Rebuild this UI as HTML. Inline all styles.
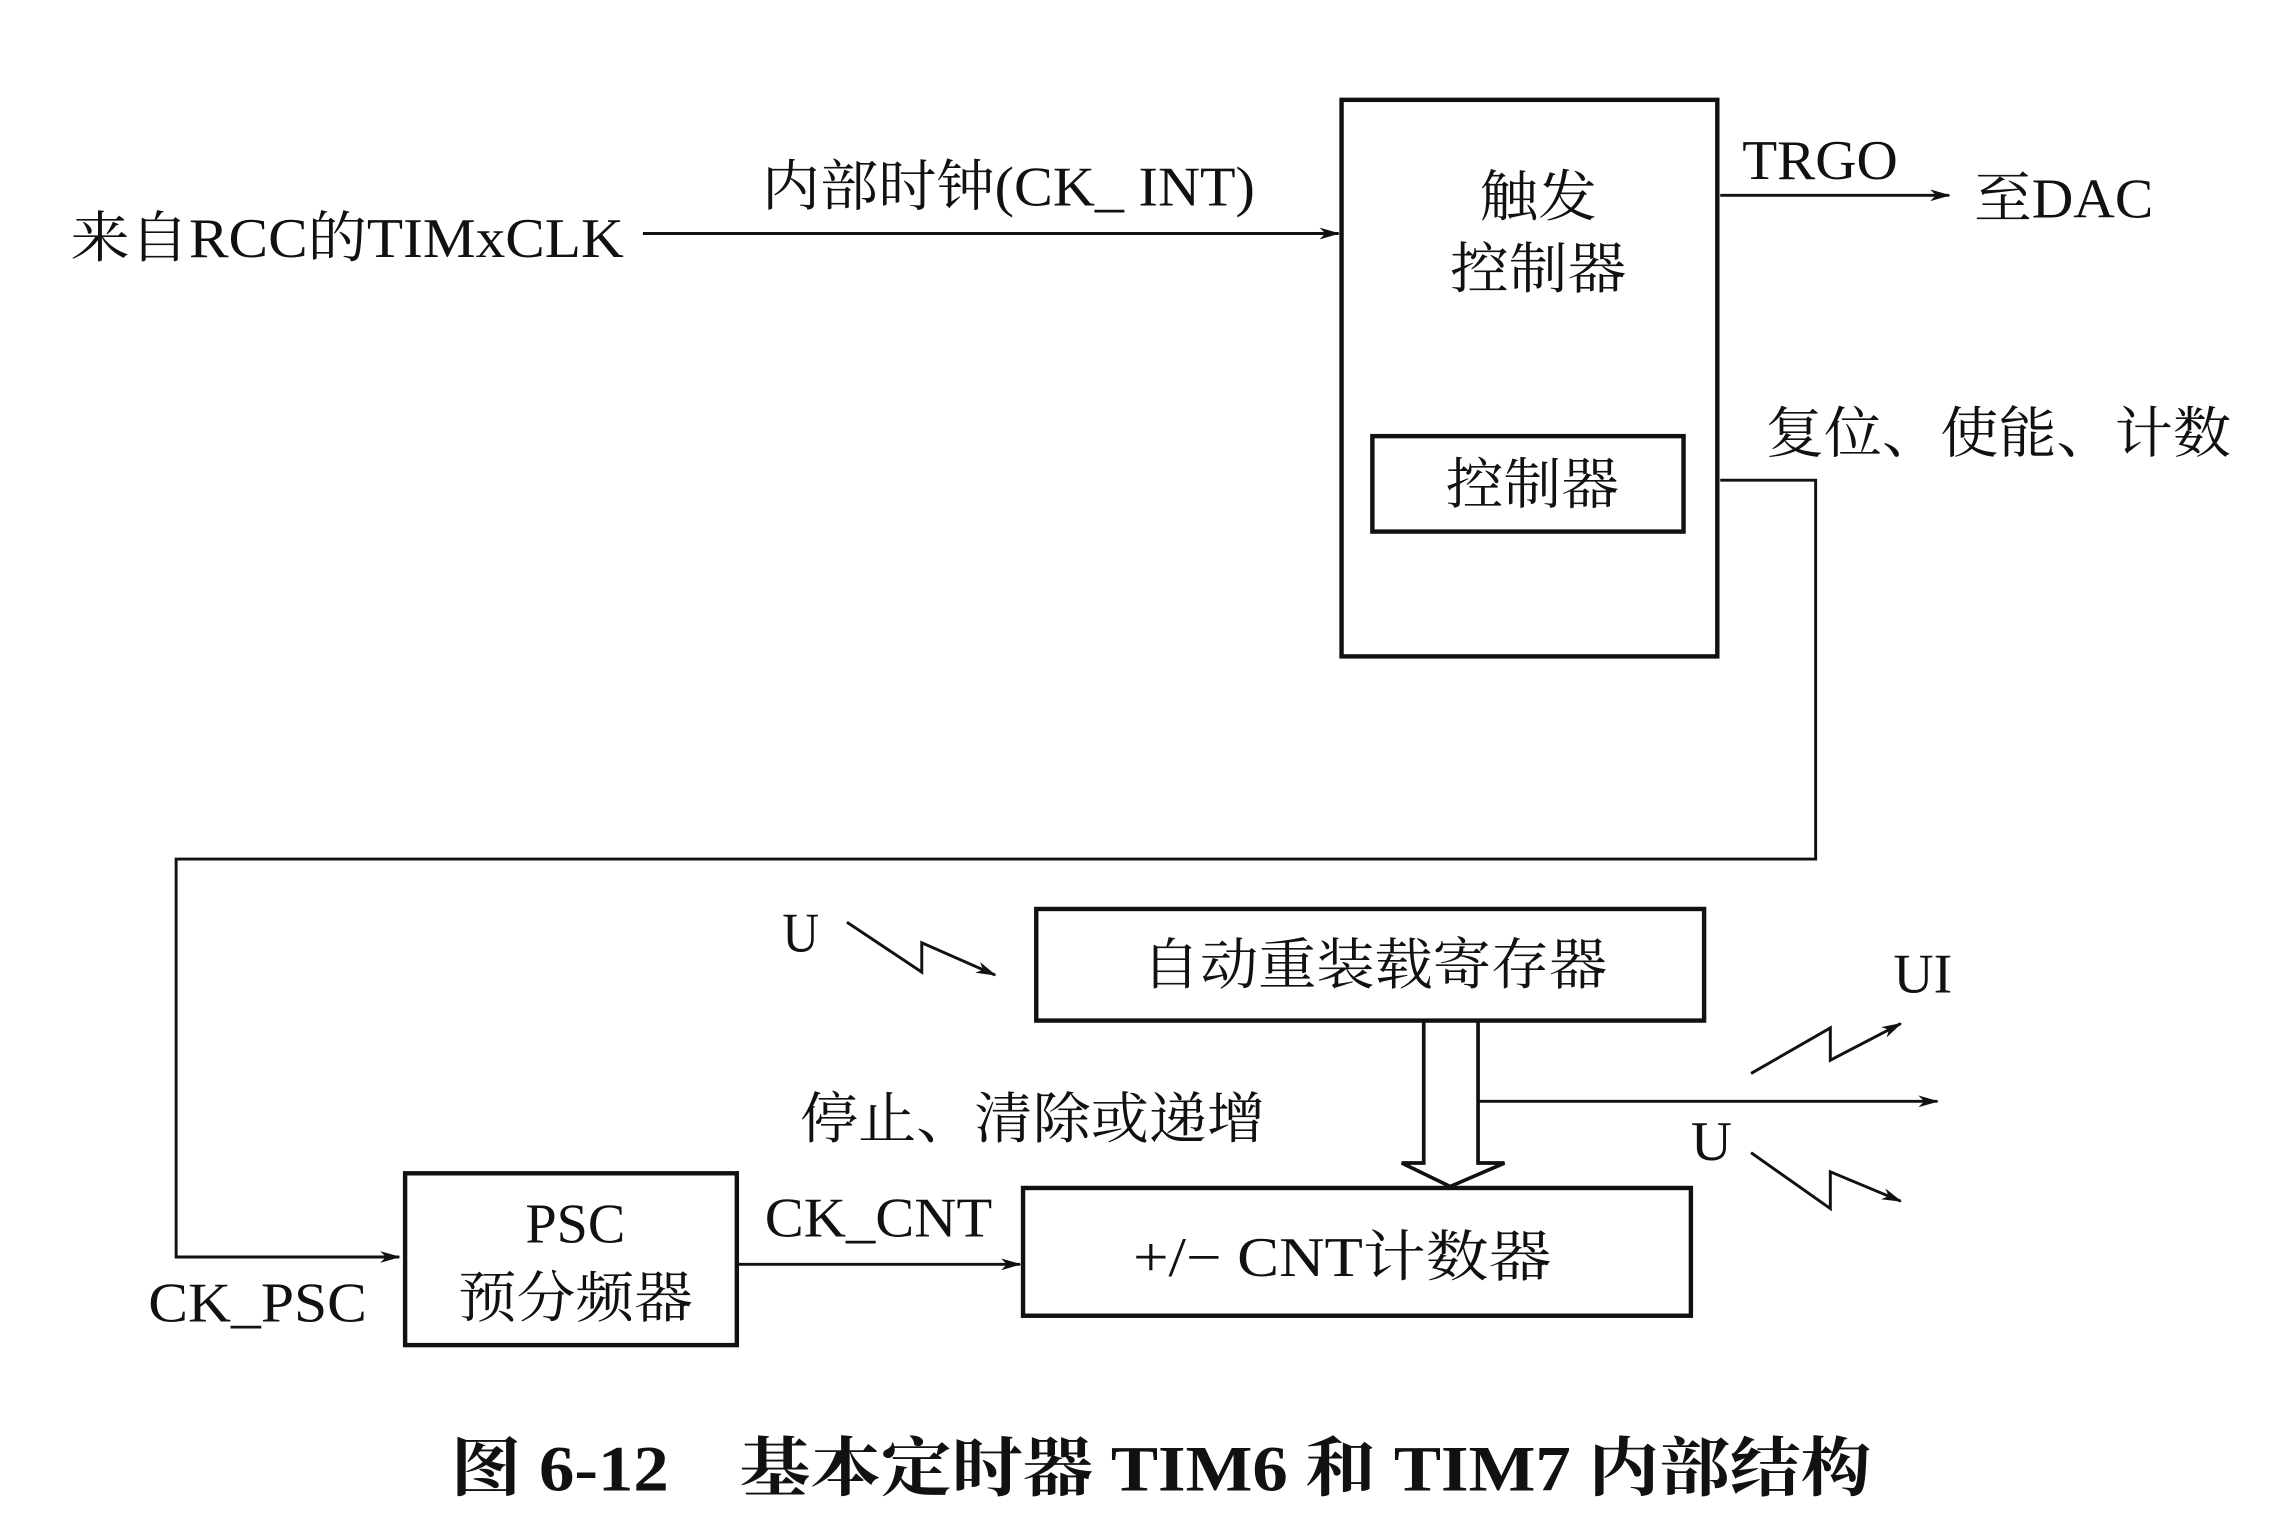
<!DOCTYPE html>
<html><head><meta charset="utf-8"><style>
html,body{margin:0;padding:0;background:#fff;}
svg{display:block;}
text{font-family:"Liberation Serif","Noto Serif CJK SC","Noto Sans CJK SC",serif;fill:#111;}
</style></head><body>
<svg width="2278" height="1536" viewBox="0 0 1552 1046" preserveAspectRatio="none" xmlns="http://www.w3.org/2000/svg">
<defs>
<marker id="a" markerWidth="14" markerHeight="8" refX="13" refY="4" orient="auto" markerUnits="userSpaceOnUse">
<path d="M0,0 L14,4 L0,8 L4,4 Z" fill="#111"/>
</marker>
</defs>
<g fill="none" stroke="#111" stroke-width="3">
<rect x="914" y="68" width="256" height="379"/>
<rect x="935" y="297" width="212" height="65"/>
<rect x="706" y="619" width="455" height="76"/>
<rect x="276" y="799" width="226" height="117"/>
<rect x="697" y="809" width="455" height="87"/>
</g>
<g fill="none" stroke="#111" stroke-width="2">
<line x1="438" y1="159" x2="912" y2="159" marker-end="url(#a)"/>
<line x1="1172" y1="133" x2="1328" y2="133" marker-end="url(#a)"/>
<polyline points="1172,327 1237,327 1237,585 120,585 120,856 272,856" marker-end="url(#a)"/>
<line x1="502" y1="861" x2="695" y2="861" marker-end="url(#a)"/>
<polyline points="577,628 628,662 628,642 678,664" marker-end="url(#a)"/>
<line x1="1007" y1="750" x2="1320" y2="750" marker-end="url(#a)"/>
<polyline points="1193,731 1247,700 1247,722 1295,697" marker-end="url(#a)"/>
<polyline points="1193,785 1247,823 1247,798 1295,818" marker-end="url(#a)"/>
<polyline points="970,695 970,792 955,792 988,808 1025,792 1007,792 1007,695" stroke-width="2.5"/>
</g>
<g font-size="38" lengthAdjust="spacingAndGlyphs">
<text x="48" y="175" textLength="377" lengthAdjust="spacingAndGlyphs">来自RCC的TIMxCLK</text>
<text x="519" y="140" textLength="336" lengthAdjust="spacingAndGlyphs">内部时钟(CK_ INT)</text>
<text x="1008" y="147" textLength="80" lengthAdjust="spacingAndGlyphs">触发</text>
<text x="988" y="196" textLength="120" lengthAdjust="spacingAndGlyphs">控制器</text>
<text x="985" y="343" textLength="118" lengthAdjust="spacingAndGlyphs">控制器</text>
<text x="1187" y="122" textLength="106" lengthAdjust="spacingAndGlyphs">TRGO</text>
<text x="1345" y="148" textLength="122" lengthAdjust="spacingAndGlyphs">至DAC</text>
<text x="1203" y="308" textLength="317" lengthAdjust="spacingAndGlyphs">复位、使能、计数</text>
<text x="533" y="648" textLength="25" lengthAdjust="spacingAndGlyphs">U</text>
<text x="778" y="670" textLength="317" lengthAdjust="spacingAndGlyphs">自动重装载寄存器</text>
<text x="1290" y="676" textLength="40" lengthAdjust="spacingAndGlyphs">UI</text>
<text x="1152" y="790" textLength="28" lengthAdjust="spacingAndGlyphs">U</text>
<text x="545" y="775" textLength="317" lengthAdjust="spacingAndGlyphs">停止、清除或递增</text>
<text x="358" y="846" textLength="68" lengthAdjust="spacingAndGlyphs">PSC</text>
<text x="312" y="897" textLength="160" lengthAdjust="spacingAndGlyphs">预分频器</text>
<text x="101" y="900" textLength="149" lengthAdjust="spacingAndGlyphs">CK_PSC</text>
<text x="521" y="842" textLength="155" lengthAdjust="spacingAndGlyphs">CK_CNT</text>
<text x="772" y="869" textLength="285" lengthAdjust="spacingAndGlyphs">+/− CNT计数器</text>
</g>
<text x="307" y="1015" font-size="44" font-weight="bold" textLength="968" lengthAdjust="spacingAndGlyphs">图 6-12　基本定时器 TIM6 和 TIM7 内部结构</text>
</svg>
</body></html>
